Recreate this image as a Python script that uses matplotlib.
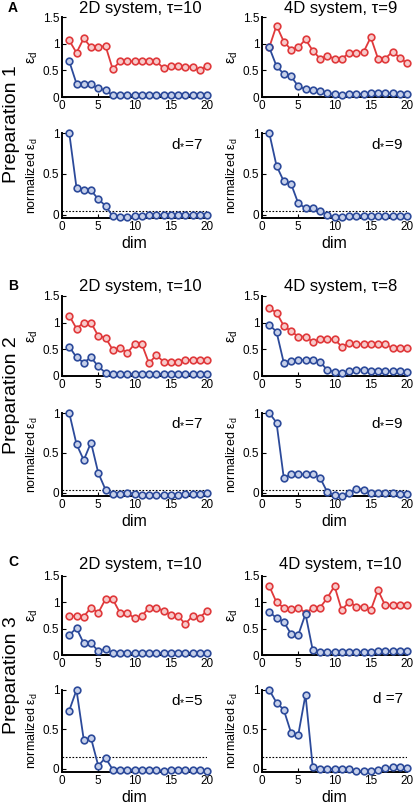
import numpy as np
import matplotlib
matplotlib.use("Agg")
import matplotlib.pyplot as plt

plt.rcParams["font.family"] = ["Liberation Sans", "DejaVu Sans"]
plt.rcParams["mathtext.fontset"] = "custom"
plt.rcParams["mathtext.rm"] = "Liberation Sans"
plt.rcParams["mathtext.it"] = "Liberation Sans:italic"

dims = np.arange(1, 21)

# --- Preparation 1 ---
p1_2d_red = [1.06, 0.83, 1.10, 0.93, 0.93, 0.96, 0.52, 0.67, 0.67, 0.67, 0.67, 0.67, 0.67,
             0.54, 0.59, 0.59, 0.57, 0.57, 0.50, 0.59]
p1_2d_blue = [0.67, 0.25, 0.24, 0.24, 0.16, 0.13, 0.03, 0.04, 0.04, 0.04, 0.04, 0.04, 0.04,
              0.04, 0.04, 0.04, 0.04, 0.04, 0.04, 0.04]
p1_2d_norm = [1.0, 0.33, 0.30, 0.30, 0.19, 0.11, -0.02, -0.03, -0.03, -0.02, -0.01, 0.0, 0.0,
              0.0, 0.0, 0.0, 0.0, 0.0, 0.0, 0.0]
p1_4d_red = [0.93, 1.34, 1.04, 0.89, 0.93, 1.08, 0.87, 0.72, 0.77, 0.72, 0.72, 0.82, 0.82,
             0.84, 1.12, 0.72, 0.72, 0.85, 0.74, 0.63]
p1_4d_blue = [0.93, 0.58, 0.43, 0.39, 0.20, 0.15, 0.14, 0.11, 0.08, 0.05, 0.04, 0.05, 0.06,
              0.06, 0.07, 0.07, 0.07, 0.07, 0.06, 0.06]
p1_4d_norm = [1.0, 0.60, 0.41, 0.38, 0.14, 0.08, 0.08, 0.04, 0.0, -0.03, -0.03, -0.01, -0.01,
              -0.01, -0.01, -0.01, -0.01, -0.01, -0.01, -0.02]

# --- Preparation 2 ---
p2_2d_red = [1.13, 0.89, 1.0, 1.0, 0.75, 0.72, 0.49, 0.53, 0.43, 0.60, 0.60, 0.24, 0.39,
             0.27, 0.27, 0.27, 0.30, 0.30, 0.30, 0.30]
p2_2d_blue = [0.55, 0.35, 0.25, 0.35, 0.18, 0.06, 0.04, 0.04, 0.04, 0.04, 0.04, 0.04, 0.04,
              0.04, 0.04, 0.04, 0.04, 0.04, 0.04, 0.04]
p2_2d_norm = [1.0, 0.61, 0.41, 0.63, 0.25, 0.04, -0.02, -0.01, 0.0, -0.01, -0.03, -0.03, -0.03,
              -0.03, -0.03, -0.03, -0.02, -0.02, -0.02, 0.0]
p2_4d_red = [1.27, 1.19, 0.94, 0.84, 0.74, 0.74, 0.64, 0.69, 0.69, 0.69, 0.55, 0.61, 0.60,
             0.60, 0.60, 0.60, 0.60, 0.52, 0.52, 0.52]
p2_4d_blue = [0.96, 0.83, 0.25, 0.29, 0.30, 0.30, 0.30, 0.27, 0.11, 0.08, 0.06, 0.09, 0.12,
              0.12, 0.10, 0.09, 0.09, 0.09, 0.09, 0.08]
p2_4d_norm = [1.0, 0.88, 0.19, 0.23, 0.23, 0.23, 0.23, 0.19, 0.01, -0.03, -0.04, 0.0, 0.05,
              0.04, 0.0, 0.0, 0.0, 0.0, -0.01, -0.02]

# --- Preparation 3 ---
p3_2d_red = [0.74, 0.74, 0.73, 0.90, 0.80, 1.06, 1.06, 0.80, 0.80, 0.70, 0.74, 0.90, 0.90,
             0.84, 0.76, 0.74, 0.59, 0.74, 0.71, 0.84]
p3_2d_blue = [0.38, 0.51, 0.22, 0.22, 0.08, 0.11, 0.04, 0.04, 0.04, 0.04, 0.04, 0.04, 0.04,
              0.04, 0.04, 0.04, 0.04, 0.04, 0.04, 0.04]
p3_2d_norm = [0.74, 1.0, 0.37, 0.39, 0.04, 0.14, -0.01, -0.01, -0.01, -0.01, -0.01, -0.01, -0.01,
              -0.03, -0.02, -0.02, -0.02, -0.02, -0.02, -0.03]
p3_4d_red = [1.31, 1.0, 0.90, 0.87, 0.90, 0.80, 0.89, 0.90, 1.08, 1.31, 0.85, 1.01, 0.92,
             0.92, 0.85, 1.23, 0.94, 0.94, 0.94, 0.94]
p3_4d_blue = [0.82, 0.70, 0.63, 0.40, 0.38, 0.78, 0.09, 0.06, 0.06, 0.06, 0.06, 0.06, 0.06,
              0.06, 0.06, 0.07, 0.08, 0.08, 0.08, 0.08]
p3_4d_norm = [1.0, 0.84, 0.75, 0.46, 0.43, 0.94, 0.02, 0.0, 0.0, 0.0, 0.0, 0.0, -0.03,
              -0.03, -0.03, -0.02, 0.01, 0.02, 0.02, 0.01]

titles = [["2D system, τ=10", "4D system, τ=9"],
          ["2D system, τ=10", "4D system, τ=8"],
          ["2D system, τ=10", "4D system, τ=10"]]
dstar = [[r"d$_{*}$=7", r"d$_{*}$=9"],
         [r"d$_{*}$=7", r"d$_{*}$=9"],
         [r"d$_{*}$=5", "d =7"]]
thresholds = [0.04, 0.04, 0.15]
panel_letters = ["A", "B", "C"]
prep_labels = ["Preparation 1", "Preparation 2", "Preparation 3"]

raw = [[(p1_2d_red, p1_2d_blue), (p1_4d_red, p1_4d_blue)],
       [(p2_2d_red, p2_2d_blue), (p2_4d_red, p2_4d_blue)],
       [(p3_2d_red, p3_2d_blue), (p3_4d_red, p3_4d_blue)]]
norm = [[p1_2d_norm, p1_4d_norm], [p2_2d_norm, p2_4d_norm], [p3_2d_norm, p3_4d_norm]]

RED = "#e0393b"
BLUE = "#2c4a9a"
RED_FILL = "#f7caca"
BLUE_FILL = "#c6d0ea"

W, H = 413, 807
fig = plt.figure(figsize=(W / 100, H / 100), dpi=100)

# axes boxes in pixels: (top, bottom) for raw and normalized rows
raw_rows = [(17, 97), (296, 376), (576, 655)]
norm_rows = [(133, 218), (413, 496), (690, 772)]
cols = [(62, 207), (262, 407)]
letter_y = [8, 286, 562]
prep_y = [124, 395, 675]
title_y = [9, 287, 564]


def px_rect(x0, x1, top, bot):
    return [x0 / W, 1 - bot / H, (x1 - x0) / W, (bot - top) / H]


def style(ax):
    ax.spines["top"].set_visible(False)
    ax.spines["right"].set_visible(False)
    ax.spines["left"].set_linewidth(1.4)
    ax.spines["bottom"].set_linewidth(1.4)
    ax.tick_params(direction="in", length=3, width=0.8, labelsize=8.5, pad=2)
    ax.set_xlim(0, 20)
    ax.set_xticks([0, 5, 10, 15, 20])


def line(ax, y, color, fill):
    ax.plot(dims, y, color=color, lw=1.3, marker="o", ms=4.8, mew=1.2,
            mfc=fill, mec=color, clip_on=False, zorder=3)


for r in range(3):
    fig.text(8 / W, 1 - letter_y[r] / H, panel_letters[r], fontsize=10,
             fontweight="bold", va="center", ha="left")
    fig.text(12 / W, 1 - prep_y[r] / H, prep_labels[r], fontsize=14,
             rotation=90, va="center", ha="center")
    for c in range(2):
        x0, x1 = cols[c]
        ax = fig.add_axes(px_rect(x0, x1, *raw_rows[r]))
        style(ax)
        red, blue = raw[r][c]
        line(ax, red, RED, RED_FILL)
        line(ax, blue, BLUE, BLUE_FILL)
        ax.set_ylim(0, 1.5)
        ax.set_yticks([0, 0.5, 1, 1.5])
        ax.set_yticklabels(["0", "0.5", "1", "1.5"])
        ax.set_ylabel(r"ε$_\mathrm{d}$", fontsize=10, labelpad=2)
        fig.text((x0 + x1) / 2 / W + 0.015, 1 - title_y[r] / H, titles[r][c],
                 fontsize=12, ha="center", va="center")

        axn = fig.add_axes(px_rect(x0, x1, *norm_rows[r]))
        style(axn)
        axn.axhline(thresholds[r], color="black", lw=0.8, ls=(0, (1.5, 1.5)), zorder=1)
        line(axn, norm[r][c], BLUE, BLUE_FILL)
        axn.set_ylim(-0.04, 1.0)
        axn.set_yticks([0, 0.5, 1])
        axn.set_yticklabels(["0", "0.5", "1"])
        axn.set_ylabel(r"normalized ε$_\mathrm{d}$", fontsize=9, labelpad=2)
        axn.set_xlabel("dim", fontsize=11.5, labelpad=2)
        axn.text(0.97, 0.97, dstar[r][c], transform=axn.transAxes, fontsize=11,
                 ha="right", va="top")

fig.savefig("out.png", dpi=100)
